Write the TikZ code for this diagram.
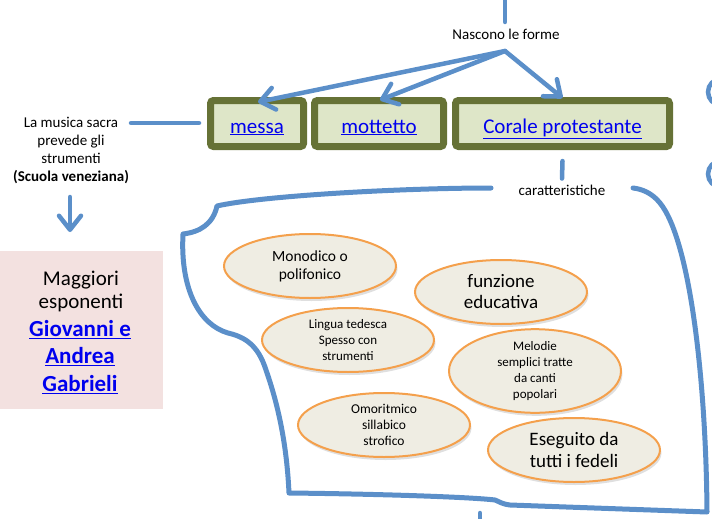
\documentclass[tikz,border=0pt]{standalone}
\usepackage{fontspec}
\setmainfont{Carlito}
\usetikzlibrary{arrows.meta,shapes.geometric,shadows,calc}
\definecolor{connblue}{HTML}{5B8FC9}
\definecolor{olivebd}{HTML}{667236}
\definecolor{boxfill}{HTML}{DEE6C8}
\definecolor{ellfill}{HTML}{EFEDE3}
\definecolor{ellline}{HTML}{F4A04C}
\definecolor{pinkfill}{HTML}{F3E1E0}
\definecolor{linkblue}{HTML}{0000EE}
\tikzset{
  connline/.style={draw=connblue, line width=4.5pt, line cap=round},
  arrline/.style={connline, -{Straight Barb[length=14pt,width=22pt,line width=4.5pt,round]}},
  blobline/.style={draw=connblue, line width=5pt, line join=round, line cap=round},
  formbox/.style={draw=olivebd, line width=7pt, fill=boxfill, rounded corners=3pt,
     minimum height=46pt, inner sep=0pt, text height=19pt, text depth=0pt,
     font=\fontsize{21}{25}\selectfont, text=linkblue},
  ellbox/.style={ellipse, draw=ellline, line width=2pt, fill=ellfill, minimum width=172pt,
     minimum height=64pt, inner sep=0pt, align=center,
     drop shadow={shadow xshift=1.5pt, shadow yshift=-3pt, opacity=0.25}},
  smalltxt/.style={font=\fontsize{15}{18}\selectfont, align=center, inner sep=0pt},
}
\begin{document}
\begin{tikzpicture}[x=1pt,y=-1pt]
\useasboundingbox (0,0) rectangle (712,519);
\clip (0,0) rectangle (712,519);

% pink box
\node[fill=pinkfill, minimum width=163pt, minimum height=158pt, inner sep=0pt] (pink) at (81.5,330) {};
\node[font=\fontsize{21}{23}\selectfont, align=center, inner sep=0pt] (mag) at (81,291.5) {Maggiori\\esponenti};
\node[font=\fontsize{23}{27.5}\selectfont\bfseries, text=linkblue, align=center, inner sep=0pt] (gab) at (80,357)
  {\underline{Giovanni e}\\\underline{Andrea}\\\underline{Gabrieli}};

% top texts
\node[smalltxt] (nasc) at (506,34) {Nascono le forme};
\coordinate (topend) at (505,0);
\coordinate (hub) at (505,51);
\draw[connline] (topend) -- (505,22);

% form boxes
\node[formbox, minimum width=93pt] (messa) at (257,123.5) {\underline{messa}};
\node[formbox, minimum width=129pt] (mott) at (379,123.5) {\underline{mottetto}};
\node[formbox, minimum width=214pt] (corale) at (562.5,123.5) {\underline{Corale protestante}};

\draw[arrline] (hub) -- ($(messa.north)+(1,5)$);
\draw[arrline] (hub) -- ($(mott.north)+(1,3)$);
\draw[arrline] (hub) -- ($(corale.north)+(0,1)$);

% left text
\node[smalltxt] (left) at (71,150) {La musica sacra\\prevede gli\\strumenti\\\textbf{(Scuola veneziana)}};
\coordinate (l1) at (131,123);
\draw[connline] (l1) -- (199,123);
\coordinate (da) at (70,197);
\draw[arrline] (da) -- (70,232);

% caratteristiche
\node[smalltxt] (carat) at (562,190) {caratteristiche};
\draw[connline] ($(corale.south)+(0,11)$) -- ($(carat.north)+(0,-6)$);

% blob
\draw[blobline] (491,188) .. controls (400,188) and (260,196) .. (217,206)
  .. controls (213,224) and (200,232) .. (183,234)
  .. controls (180,290) and (200,325) .. (228,333)
  .. controls (245,337) and (258,345) .. (266,370)
  .. controls (280,410) and (287,450) .. (289,493)
  .. controls (380,494) and (470,497) .. (495,500)
  .. controls (500,502) and (502,504) .. (510,505)
  -- (707,512)
  .. controls (706,380) and (690,240) .. (660,203)
  .. controls (652,193) and (642,189) .. (633,188);

% ellipses
\node[ellbox, font=\fontsize{15.5}{18}\selectfont] (e1) at (310,266) {Monodico o\\polifonico};
\node[ellbox, font=\fontsize{19}{21}\selectfont] (e2) at (501,292) {funzione\\educativa};
\node[ellbox, font=\fontsize{13}{16}\selectfont] (e3) at (348,340) {Lingua tedesca\\Spesso con\\strumenti};
\node[ellbox, font=\fontsize{13}{16}\selectfont] (e4) at (535,371) {Melodie\\semplici tratte\\da canti\\popolari};
\node[ellbox, font=\fontsize{13.5}{16}\selectfont] (e5) at (384,425) {Omoritmico\\sillabico\\strofico};
\node[ellbox, font=\fontsize{19}{22}\selectfont] (e6) at (574,450) {Eseguito da\\tutti i fedeli};

% bottom stub and right-edge arcs
\coordinate (bot) at (480,519);
\draw[connline] (bot) -- (480,513);
\draw[connline] (721,92) circle[radius=13];
\draw[connline] (721,174) circle[radius=13];
\end{tikzpicture}
\end{document}
